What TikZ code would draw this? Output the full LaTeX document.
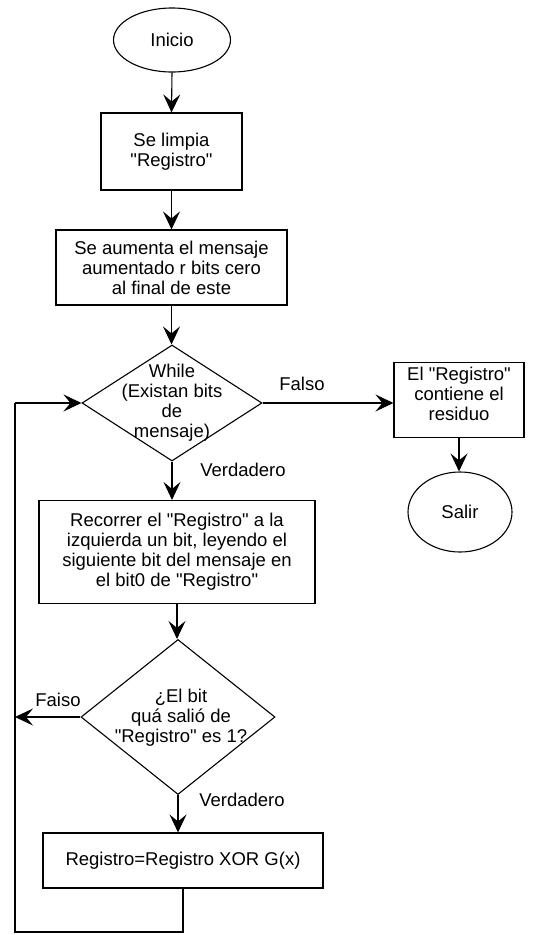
\documentclass[tikz,border=0pt]{standalone}
\usepackage{fontspec}
\newfontfamily\flowfont{Liberation Sans}
\usetikzlibrary{shapes.geometric,arrows.meta}
\begin{document}
\begin{tikzpicture}[x=1pt,y=-1pt,
  every node/.style={font=\flowfont\fontsize{18.5}{20}\selectfont},
  base/.style={draw=black,line width=1.1pt,inner sep=0pt},
  proc/.style={base,rectangle,align=center},
  term/.style={base,ellipse},
  decis/.style={base,diamond},
  dtext/.style={align=center,inner sep=0pt},
  lbl/.style={inner sep=0pt},
  flow/.style={line width=1.1pt,-{Stealth[length=18pt,width=17pt,inset=7pt]}},
  wire/.style={line width=1.1pt}]
\useasboundingbox (0,0) rectangle (535,935);
\node[term,minimum width=117pt,minimum height=64pt] (inicio) at (172,40) {Inicio};
\node[proc,minimum width=141pt,minimum height=77pt] (b1) at (171.5,151.5) {Se limpia\\"Registro"};
\node[proc,minimum width=231pt,minimum height=75pt] (b2) at (171.5,267.5) {Se aumenta el mensaje\\aumentado r bits cero\\al final de este};
\node[decis,minimum width=180pt,minimum height=116pt] (d1) at (172,403) {};
\node[dtext] (d1t) at (172,403) {While\\(Existan bits\\de\\mensaje)};
\node[lbl] (f1) at (302,384) {Falso};
\node[proc,minimum width=130pt,minimum height=75pt] (b3) at (459,400) {};
\node[dtext] (b3t) at (459,394) {El "Registro"\\contiene el\\residuo};
\node[term,minimum width=104pt,minimum height=80pt] (salir) at (460,512) {Salir};
\node[lbl] (v1) at (243,470) {Verdadero};
\node[proc,minimum width=276pt,minimum height=103pt] (b4) at (177,552) {Recorrer el "Registro" a la\\izquierda un bit, leyendo el\\siguiente bit del mensaje en\\el bit0 de "Registro"};
\node[decis,minimum width=194pt,minimum height=155pt] (d2) at (178,717) {};
\node[dtext] (d2t) at (181,718) {¿El bit\\quá salió de\\"Registro" es 1?};
\node[lbl] (f2) at (58,700) {Faiso};
\node[lbl] (v2) at (242,800) {Verdadero};
\node[proc,minimum width=280pt,minimum height=55pt] (b5) at (183,860.5) {Registro=Registro XOR G(x)};
\coordinate (lb) at (183,932);
\coordinate (ll) at (15,932);
\coordinate (lt) at (15,403);
\draw[flow] (inicio.south) -- (b1.north);
\draw[flow] (b1.south) -- (b2.north);
\draw[flow] (b2.south) -- (b2.south |- d1.north);
\draw[flow] (d1.east) -- (b3.west |- d1.east);
\draw[flow] (b3.south) -- (b3.south |- salir.north);
\draw[flow] (d1.south) -- (d1.south |- b4.north);
\draw[flow] (b4.south) -- (b4.south |- d2.north);
\draw[flow] (d2.west) -- (d2.west -| ll);
\draw[flow] (d2.south) -- (d2.south |- b5.north);
\draw[wire] (b5.south) -- (lb) -- (ll) -- (lt);
\draw[flow] (lt) -- (d1.west);
\end{tikzpicture}
\end{document}
